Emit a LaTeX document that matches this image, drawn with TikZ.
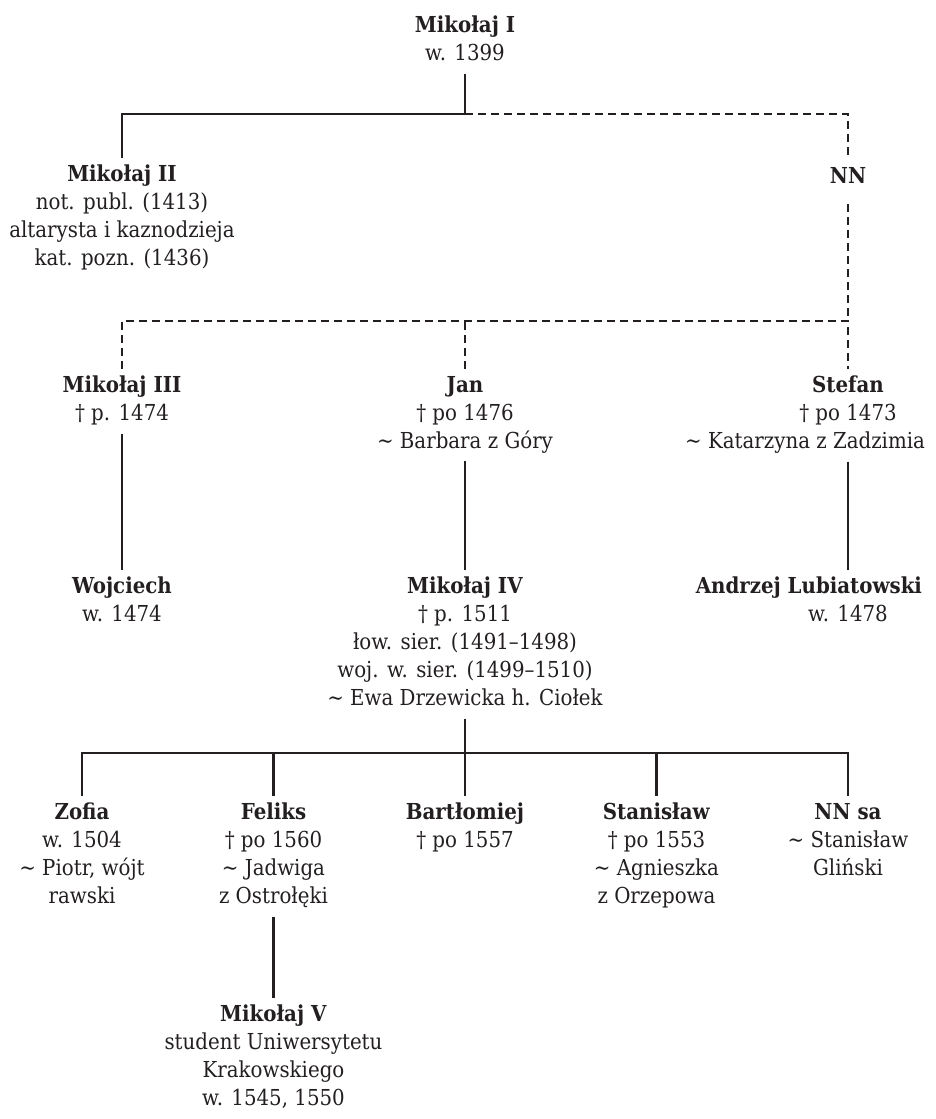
\documentclass[tikz,border=0pt]{standalone}
\usepackage{fontspec}
\setmainfont{DejaVu Serif}[FakeStretch=0.9]
\definecolor{ink}{HTML}{231F20}
% a long line kept inside the right margin: it ends #1/2 to the right of the column
\newcommand{\rightclamp}[2]{\makebox[#1][r]{#2}}
\begin{document}
\begin{tikzpicture}[x=1pt,y=-1pt,
  person/.style={align=center, inner sep=0pt, outer xsep=0pt, outer ysep=7pt,
    anchor=north, text=ink, font=\fontsize{22pt}{28pt}\selectfont,
    execute at begin node={\rule{0pt}{18pt}},
    execute at end node={\rule[-6pt]{0pt}{6pt}}},
  kin/.style={draw=ink, line width=2.2pt},
  kindash/.style={kin, dash pattern=on 8pt off 5pt}]
\useasboundingbox (0,0) rectangle (936,1119);

% bars joining siblings
\coordinate (bar1) at (0,114);
\coordinate (bar2) at (0,321);
\coordinate (bar3) at (0,753);

% generation I
\node[person] (m1) at (465,9) {\textbf{Mikołaj I}\\w. 1399};

% generation II
\node[person] (m2) at (122,158) {\textbf{Mikołaj II}\\not. publ. (1413)\\altarysta i kaznodzieja\\kat. pozn. (1436)};
\node[person] (nn) at (848,158) {\textbf{NN}};

% generation III
\node[person] (m3) at (122,369) {\textbf{Mikołaj III}\\† p. 1474};
\node[person] (jan) at (465,369) {\textbf{Jan}\\† po 1476\\∼ Barbara z Góry};
\node[person] (stefan) at (848,369) {\textbf{Stefan}\\† po 1473\\\rightclamp{154pt}{∼ Katarzyna z Zadzimia}};

% generation IV
\node[person] (wojciech) at (122,570) {\textbf{Wojciech}\\w. 1474};
\node[person] (m4) at (465,570) {\textbf{Mikołaj IV}\\† p. 1511\\łow. sier. (1491–1498)\\woj. w. sier. (1499–1510)\\∼ Ewa Drzewicka h. Ciołek};
\node[person] (andrzej) at (848,570) {\rightclamp{148pt}{\textbf{Andrzej Lubiatowski}}\\w. 1478};

% generation V
\node[person] (zofia) at (82,796) {\textbf{Zofia}\\w. 1504\\∼ Piotr, wójt\\rawski};
\node[person] (feliks) at (273.5,796) {\textbf{Feliks}\\† po 1560\\∼ Jadwiga\\z Ostrołęki};
\node[person] (bartl) at (465,796) {\textbf{Bartłomiej}\\† po 1557};
\node[person] (stan) at (656.5,796) {\textbf{Stanisław}\\† po 1553\\∼ Agnieszka\\z Orzepowa};
\node[person] (nnsa) at (848,796) {\textbf{NN sa}\\∼ Stanisław\\Gliński};

% generation VI
\node[person] (m5) at (273.5,998) {\textbf{Mikołaj V}\\student Uniwersytetu\\Krakowskiego\\w. 1545, 1550};

% descent lines
\draw[kin] (m1.south) -- (m1.south |- bar1) -| (m2.north);
\draw[kindash] (m1.south |- bar1) -| (nn.north);
\draw[kindash] ([yshift=-8pt]nn.south) -- (nn.south |- bar2);
\draw[kindash] (m3.north) |- (stefan.north |- bar2) -- (stefan.north);
\draw[kindash] (jan.north) -- (jan.north |- bar2);

\draw[kin] (m3.south) -- (wojciech.north);
\draw[kin] (jan.south) -- (m4.north);
\draw[kin] (stefan.south) -- (andrzej.north);

\draw[kin] (m4.south) -- (m4.south |- bar3);
\draw[kin] (zofia.north) |- (nnsa.north |- bar3) -- (nnsa.north);
\draw[kin] (feliks.north) -- (feliks.north |- bar3);
\draw[kin] (bartl.north) -- (bartl.north |- bar3);
\draw[kin] (stan.north) -- (stan.north |- bar3);

\draw[kin] (feliks.south) -- (m5.north);
\end{tikzpicture}
\end{document}
